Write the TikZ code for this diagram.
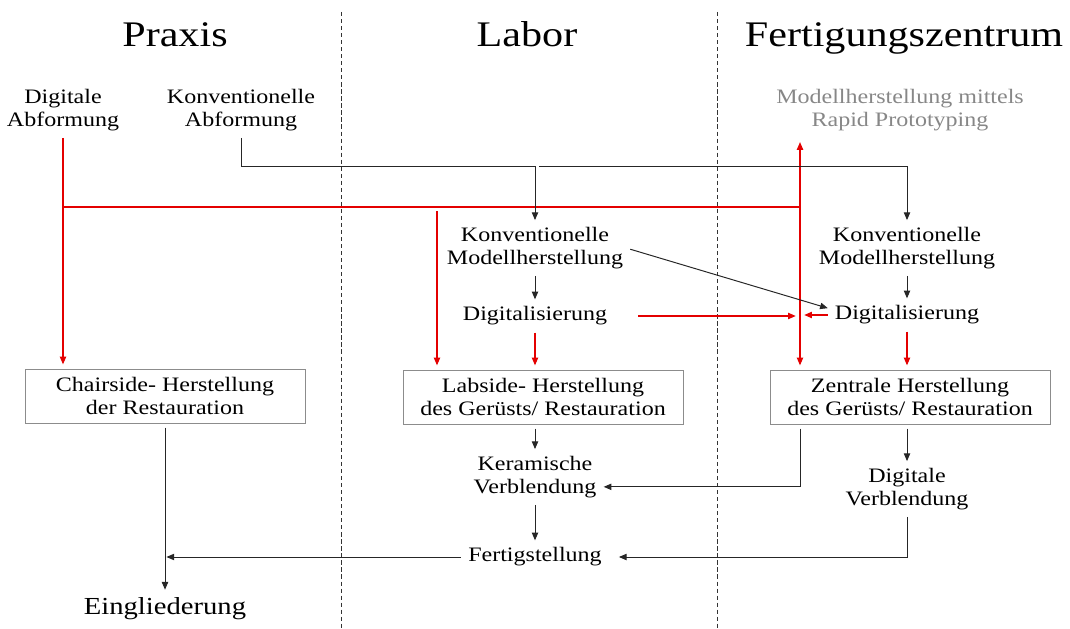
\documentclass[tikz,border=0pt]{standalone}
\usepackage{fontspec}
\setmainfont{Liberation Serif}[FakeStretch=1.17]
\usepackage{tikz}
\usetikzlibrary{positioning, arrows.meta}

\definecolor{flowred}{RGB}{228,0,0}
\definecolor{boxgray}{RGB}{140,140,140}
\definecolor{rpgray}{RGB}{135,135,135}

\begin{document}
\begin{tikzpicture}[x=0.025cm, y=-0.025cm,
		>={Triangle[length=5.5pt,width=4.5pt]},
		txt/.style={align=center, inner sep=2pt, font=\fontsize{14.6}{16}\selectfont},
		head/.style={anchor=base, font=\fontsize{25.6}{30}\selectfont},
		stage/.style={txt, draw=boxgray, line width=0.6pt, minimum width=7cm, minimum height=1.35cm},
		arr/.style={->, line width=0.7pt, black!85, shorten >=3pt, shorten <=3pt},
		redarr/.style={arr, draw=flowred, line width=0.8pt},
		redline/.style={line width=0.8pt, draw=flowred},
		sep/.style={densely dashed, line width=0.5pt, black!80}]

	\useasboundingbox (0,0) rectangle (1070,629);

	% column separators and titles
	\draw[sep] (341,12) -- (341,629);
	\draw[sep] (717,12) -- (717,629);
	\draw
	node[head] (praxis) at (175,47) {Praxis}
	node[head] (labor) at (527,47) {Labor}
	node[head] (zentrum) at (904,47) {Fertigungszentrum};

	% impressions
	\draw
	node[txt] (digabf) at (63,110) {Digitale\\Abformung}
	node[txt] (konvabf) at (241,110) {Konventionelle\\Abformung}
	node[txt, text=rpgray] (rp) at (900,110) {Modellherstellung mittels\\Rapid Prototyping};

	% Praxis column
	\draw
	node[stage] (chair) at (165,396) {Chairside- Herstellung\\der Restauration}
	node[txt, font=\fontsize{17.4}{20}\selectfont, anchor=base] (eing) at (165,614) {Eingliederung};

	% Labor column
	\draw
	node[txt] (labmod) at (535,248) {Konventionelle\\Modellherstellung}
	node[txt] (labdig) at (535,316) {Digitalisierung}
	node[stage] (labside) at (543,397) {Labside- Herstellung\\des Gerüsts/ Restauration}
	node[txt] (keram) at (535,477) {Keramische\\Verblendung}
	node[txt] (fertig) at (535,557) {Fertigstellung};

	% Fertigungszentrum column
	\draw
	node[txt] (zmod) at (907,248) {Konventionelle\\Modellherstellung}
	node[txt] (zdig) at (907,315) {Digitalisierung}
	node[stage] (zentral) at (910,397) {Zentrale Herstellung\\des Gerüsts/ Restauration}
	node[txt] (zverbl) at (907,489) {Digitale\\Verblendung};

	\coordinate (abfrow) at (0,166);
	\coordinate (split) at (800,207);
	\coordinate (labsplit) at (437,207);

	% digital path (red)
	\draw[redarr] (digabf) -- (digabf |- chair.north);
	\draw[redline] (digabf |- split) -- (split);
	\draw[redarr] (labsplit) -- (labsplit |- labside.north);
	\draw[redarr, <->, shorten <=6pt] (split |- rp.south) -- (split |- zentral.north);
	\draw[redarr, shorten <=20pt] (labdig) -- (labdig -| split);
	\draw[redarr] (zdig) -- (zdig -| split);
	\draw[redarr] (labdig) -- (labdig |- labside.north);
	\draw[redarr] (zdig) -- (zdig |- zentral.north);

	% conventional path
	\draw[arr] (konvabf) -- (konvabf |- abfrow) -| (labmod);
	\draw[arr] (labmod |- abfrow) -| (zmod);
	\draw[arr] (labmod) -- (labdig);
	\draw[arr] (zmod) -- (zdig);
	\draw[arr] (labmod.east) -- ([yshift=4pt]zdig.west);

	% finishing
	\draw[arr] (labside.south -| keram) -- (keram);
	\draw[arr] (keram) -- (fertig);
	\draw[arr] (zentral.south -| split) |- ([yshift=-7pt]keram.east);
	\draw[arr] (zentral.south -| zverbl) -- (zverbl);
	\draw[arr, shorten >=10pt] (zverbl) |- (fertig.east);
	\draw[arr, shorten >=1pt] (fertig) -- (fertig -| chair);
	\draw[arr] (chair) -- (chair |- eing.north);
\end{tikzpicture}
\end{document}
